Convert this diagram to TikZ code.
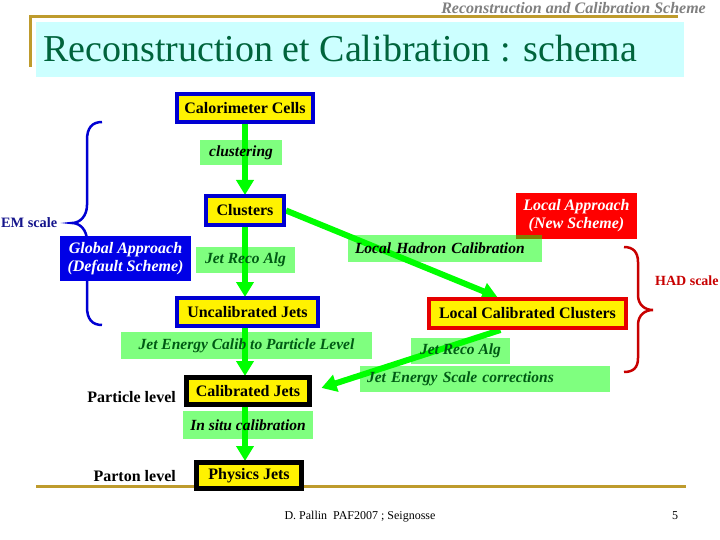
\documentclass[tikz,border=0pt]{standalone}
\usepackage{fontspec}
\setmainfont{Liberation Serif}
\usetikzlibrary{arrows.meta,calc}
\definecolor{boxblue}{RGB}{0,0,210}
\definecolor{fillblue}{RGB}{0,0,230}
\definecolor{boxred}{RGB}{230,0,0}
\definecolor{lblgreen}{RGB}{0,255,0}
\definecolor{txtgreen}{RGB}{0,90,20}
\definecolor{titlegreen}{RGB}{0,100,60}
\definecolor{titlecyan}{RGB}{204,255,255}
\definecolor{gold}{RGB}{190,155,45}
\definecolor{emnavy}{RGB}{20,20,140}
\definecolor{hadred}{RGB}{200,0,0}
\tikzset{
  x=1pt,y=-1pt,
  cellbox/.style={draw=boxblue,line width=4pt,fill=yellow,inner sep=0pt,font=\fontsize{16}{18}\selectfont\bfseries},
  redbox/.style={cellbox,draw=boxred},
  blackbox/.style={cellbox,draw=black,line width=5pt},
  schemebox/.style={inner sep=0pt,text=white,align=center,font=\fontsize{16}{18}\selectfont\bfseries\itshape},
  lbl/.style={fill=lblgreen,fill opacity=0.5,text opacity=1,inner xsep=7pt,inner ysep=0pt,font=\fontsize{15.5}{17}\selectfont\bfseries\itshape,text=txtgreen},
  flow/.style={draw=lblgreen,line width=6pt,-{Triangle[width=17pt,length=15pt]}},
  goldline/.style={draw=gold,line width=3pt},
  sidetext/.style={inner sep=0pt,font=\fontsize{16}{18}\selectfont\bfseries},
}
\begin{document}
\begin{tikzpicture}
\useasboundingbox[fill=white] (0,0) rectangle (720,540);
% header and title
\fill[titlecyan] (36,22) rectangle (684,77);
\draw[goldline] (30,67) -- (30,17) -- (678,17);
\node[anchor=base east,inner sep=0pt,text=gray,font=\fontsize{16}{18}\selectfont\bfseries\itshape] (hdr) at (706,14) {Reconstruction and Calibration Scheme};
\node[anchor=west,inner sep=0pt,text=titlegreen,font=\fontsize{38}{40}\selectfont] (title) at (43,49) {Reconstruction et Calibration : schema};
\draw[goldline] (36,486) -- (686,486);
% braces
\draw[boxblue,line width=2.5pt] (102,122) .. controls (92,122) and (87,128) .. (87,140) -- (87,205) .. controls (87,216) and (80,223) .. (72,223) .. controls (80,223) and (87,230) .. (87,241) -- (87,307) .. controls (87,319) and (92,325) .. (102,325);
\draw[hadred,line width=2.5pt] (624,247) .. controls (633,247) and (638,252) .. (638,262) -- (638,295) .. controls (638,305) and (645,310) .. (653,310) .. controls (645,310) and (638,315) .. (638,325) -- (638,358) .. controls (638,368) and (633,372) .. (624,372);
% boxes
\node[cellbox,minimum width=136pt,minimum height=28pt] (cells) at (245,108) {Calorimeter Cells};
\node[cellbox,minimum width=78pt,minimum height=29pt] (clusters) at (245,210.5) {Clusters};
\node[cellbox,minimum width=141pt,minimum height=28pt] (uncal) at (247.5,312) {Uncalibrated Jets};
\node[blackbox,minimum width=123pt,minimum height=27pt] (calib) at (248,391) {Calibrated Jets};
\node[blackbox,minimum width=105pt,minimum height=26pt] (physics) at (249,475.5) {Physics Jets};
\node[redbox,minimum width=197pt,minimum height=29pt] (lcc) at (527.5,313.5) {Local Calibrated Clusters};
\node[schemebox,fill=fillblue,minimum width=131pt,minimum height=45pt] (global) at (125.5,258.5) {Global Approach\\(Default Scheme)};
\node[schemebox,fill=red,minimum width=121pt,minimum height=46pt] (local) at (576.5,216) {Local Approach\\(New Scheme)};
% flows
\coordinate (lcctop) at ($(lcc.north west)!0.35!(lcc.north east)$);
\coordinate (lccbot) at ($(lcc.south west)!0.365!(lcc.south east)$);
\draw[flow,shorten >=-1pt] (cells.south -| clusters) -- (clusters.north);
\draw[flow,shorten >=-1pt] (clusters.south) -- (clusters.south |- uncal.north);
\draw[flow,shorten >=-1pt] (uncal.south -| clusters) -- (calib.north -| clusters);
\draw[flow,shorten >=-1pt] (calib.south -| clusters) -- (physics.north -| clusters);
\draw[flow] (clusters.east) -- (lcctop);
\draw[flow,shorten >=10pt] (lccbot) -- (calib.east);
% redraw boxes on top of flow ends
\node[cellbox,minimum width=136pt,minimum height=28pt] at (cells) {Calorimeter Cells};
\node[cellbox,minimum width=78pt,minimum height=29pt] at (clusters) {Clusters};
\node[cellbox,minimum width=141pt,minimum height=28pt] at (uncal) {Uncalibrated Jets};
\node[blackbox,minimum width=123pt,minimum height=27pt] at (calib) {Calibrated Jets};
\node[blackbox,minimum width=105pt,minimum height=26pt] at (physics) {Physics Jets};
\node[redbox,minimum width=197pt,minimum height=29pt] at (lcc) {Local Calibrated Clusters};
% labels
\node[lbl,text=black,minimum width=82pt,minimum height=25pt] (clust) at (241,152.5) {clustering};
\node[lbl,minimum width=99pt,minimum height=26pt] (jra1) at (245.5,260) {Jet Reco Alg};
\node[lbl,text=black,text width=180pt,align=left,minimum height=27pt] (lhc) at (445,248.5) {Local Hadron Calibration};
\node[lbl,minimum width=251pt,minimum height=27pt] (jecpl) at (246.5,345.5) {Jet Energy Calib to Particle Level};
\node[lbl,text=black,minimum width=130pt,minimum height=28pt,inner xsep=3pt] (insitu) at (248,425) {In situ calibration};
\node[lbl,minimum width=99pt,minimum height=26pt] (jra2) at (460.5,351) {Jet Reco Alg};
\node[lbl,text width=236pt,align=left,minimum height=26pt] (jesc) at (485,379) {Jet Energy Scale corrections};
% side texts
\node[sidetext,text=emnavy,font=\fontsize{14.3}{16}\selectfont\bfseries,anchor=west] (em) at (1,223) {EM scale};
\node[sidetext,text=hadred,font=\fontsize{14}{16}\selectfont\bfseries,anchor=west] (had) at (655,281) {HAD scale};
\node[sidetext,anchor=east] (plev) at (176,397) {Particle level};
\node[sidetext,anchor=east] (partl) at (176,476) {Parton level};
% footer
\node[inner sep=0pt,font=\fontsize{12}{14}\selectfont] (foot) at (360,517) {D. Pallin\enspace PAF2007 ; Seignosse};
\node[inner sep=0pt,font=\fontsize{12}{14}\selectfont] (page) at (675,516) {5};
\end{tikzpicture}
\end{document}
